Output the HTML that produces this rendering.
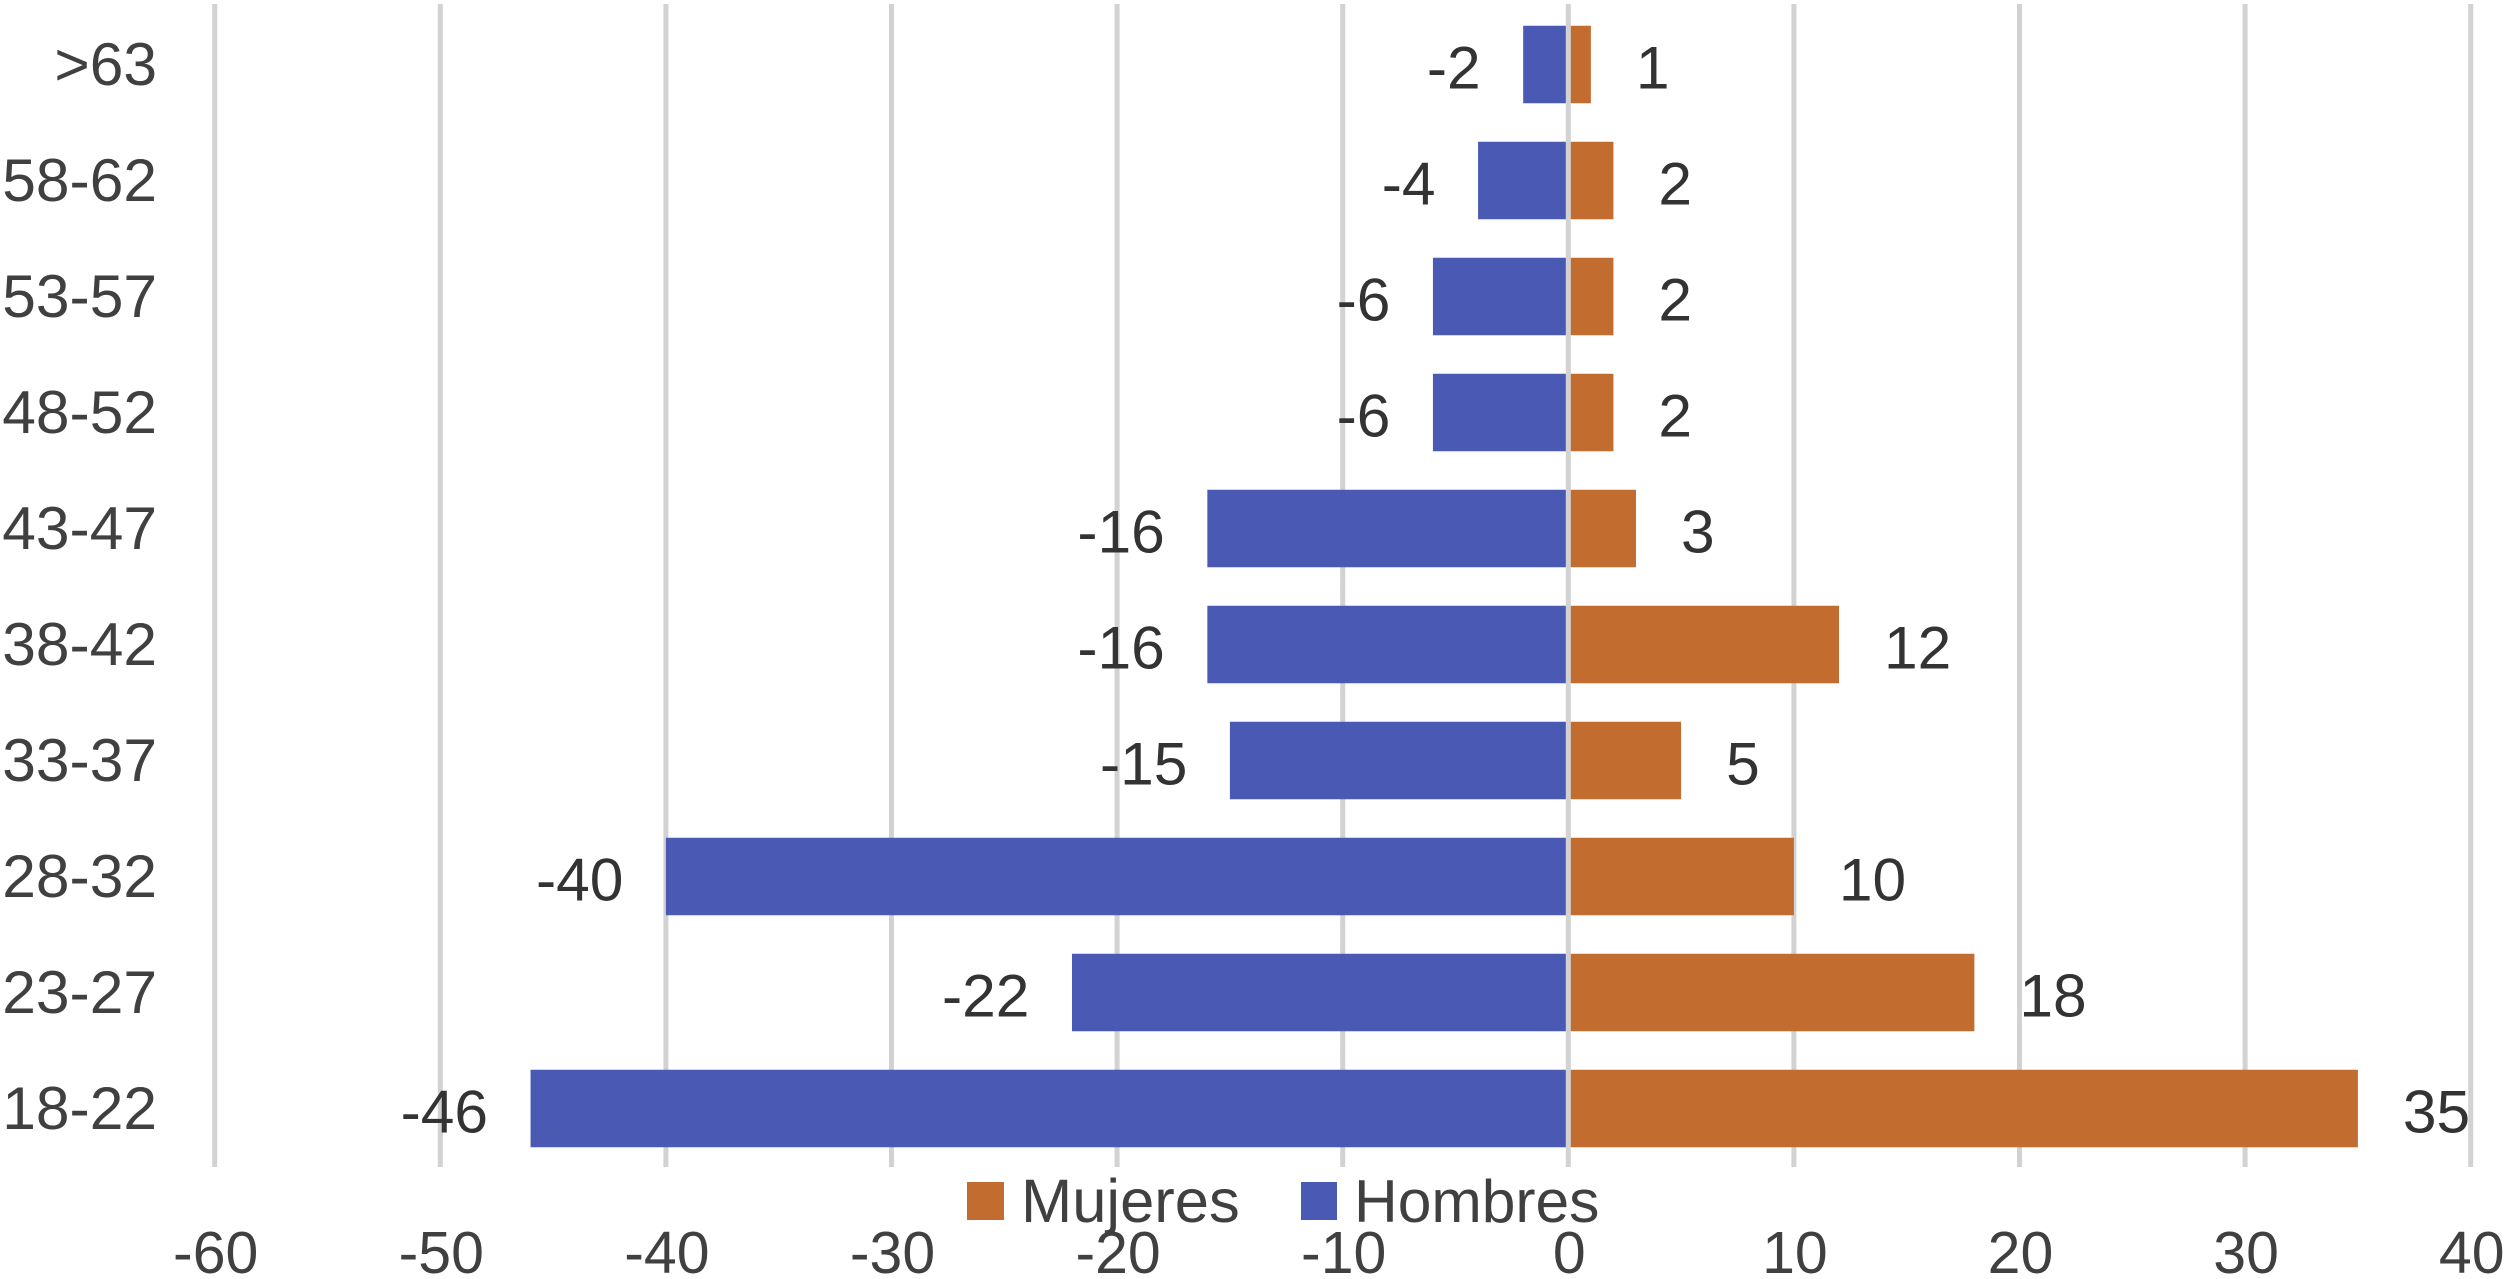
<!DOCTYPE html>
<html lang="es">
<head>
<meta charset="utf-8">
<title>Pirámide de edades</title>
<style>
html,body{margin:0;padding:0;background:#fff;}
svg{display:block;}
text{font-family:"Liberation Sans",sans-serif;font-size:60.5px;}
#xLabels text{font-size:59px;}
</style>
</head>
<body>
<svg id="chart" xmlns="http://www.w3.org/2000/svg" width="2508" height="1279" viewBox="0 0 2508 1279">
<rect x="0" y="0" width="2508" height="1279" fill="#ffffff"/>
<g id="grid"></g>
<g id="bars"></g>
<g id="zero"></g>
<g id="catLabels"></g>
<g id="valLabels"></g>
<g id="xLabels"></g>
<g>
  <g>
    <rect x="967" y="1182" width="37" height="38" fill="#C36C30"/>
    <text x="1021" y="1222" fill="#404040" style="font-size:61.5px">Mujeres</text>
  </g>
  <g>
    <rect x="1301" y="1182" width="36" height="38" fill="#4A5AB4"/>
    <text x="1354" y="1222" fill="#404040">Hombres</text>
  </g>
</g>
</svg>
<script>
const categories = [">63","58-62","53-57","48-52","43-47","38-42","33-37","28-32","23-27","18-22"];
const mujeres = [1,2,2,2,3,12,5,10,18,35];
const hombres = [-2,-4,-6,-6,-16,-16,-15,-40,-22,-46];
const xTicks = [-60,-50,-40,-30,-20,-10,0,10,20,30,40];

const NS = "http://www.w3.org/2000/svg";
const ZERO_X = 1568.3, UNIT = 22.56;
const PLOT_TOP = 6.5, BAND = 116, BAR_H = 77.5;
function xScale(v){ return ZERO_X + v * UNIT; }
function bandTop(i){ return PLOT_TOP + i * BAND; }
function barTop(i){ return bandTop(i) + (BAND - BAR_H) / 2; }
function bandCenter(i){ return bandTop(i) + BAND / 2; }
function make(tag, parentId, props, content){
  const el = document.createElementNS(NS, tag);
  for (const k in props) el.setAttribute(k, props[k]);
  if (content !== undefined) el.textContent = content;
  document.getElementById(parentId).appendChild(el);
  return el;
}

xTicks.forEach(function(t){
  if (t !== 0) {
    const line = make("rect", "grid", {x: xScale(t) - 2.5, y: 4, width: 5, height: 1163, fill: "#D2D2D2"});
    
    
  }
  const tick = make("text", "xLabels", {x: xScale(t) + 1, y: 1273, "text-anchor": "middle", fill: "#404040"}, String(t));
  
  
});

categories.forEach(function(c, i){
  const left = xScale(hombres[i]);
  const right = xScale(mujeres[i]);
  const barH = make("rect", "bars", {x: left, y: barTop(i), width: ZERO_X - left, height: BAR_H, fill: "#4A5AB4"});
  
  
  const barM = make("rect", "bars", {x: ZERO_X, y: barTop(i), width: right - ZERO_X, height: BAR_H, fill: "#C36C30"});
  
  

  const cat = make("text", "catLabels", {x: 157, y: bandCenter(i) + 20.5, "text-anchor": "end", fill: "#404040"}, c);
  
  

  const lblH = make("text", "valLabels", {x: left - 42.5, y: bandCenter(i) + 24, "text-anchor": "end", fill: "#333333"}, String(hombres[i]));
  
  
  const lblM = make("text", "valLabels", {x: right + 45, y: bandCenter(i) + 24, "text-anchor": "start", fill: "#333333"}, String(mujeres[i]));
  
  
});

const zeroLine = make("rect", "zero", {x: xScale(0) - 2.5, y: 4, width: 5, height: 1163, fill: "#D2D2D2"});


</script>
</body>
</html>
